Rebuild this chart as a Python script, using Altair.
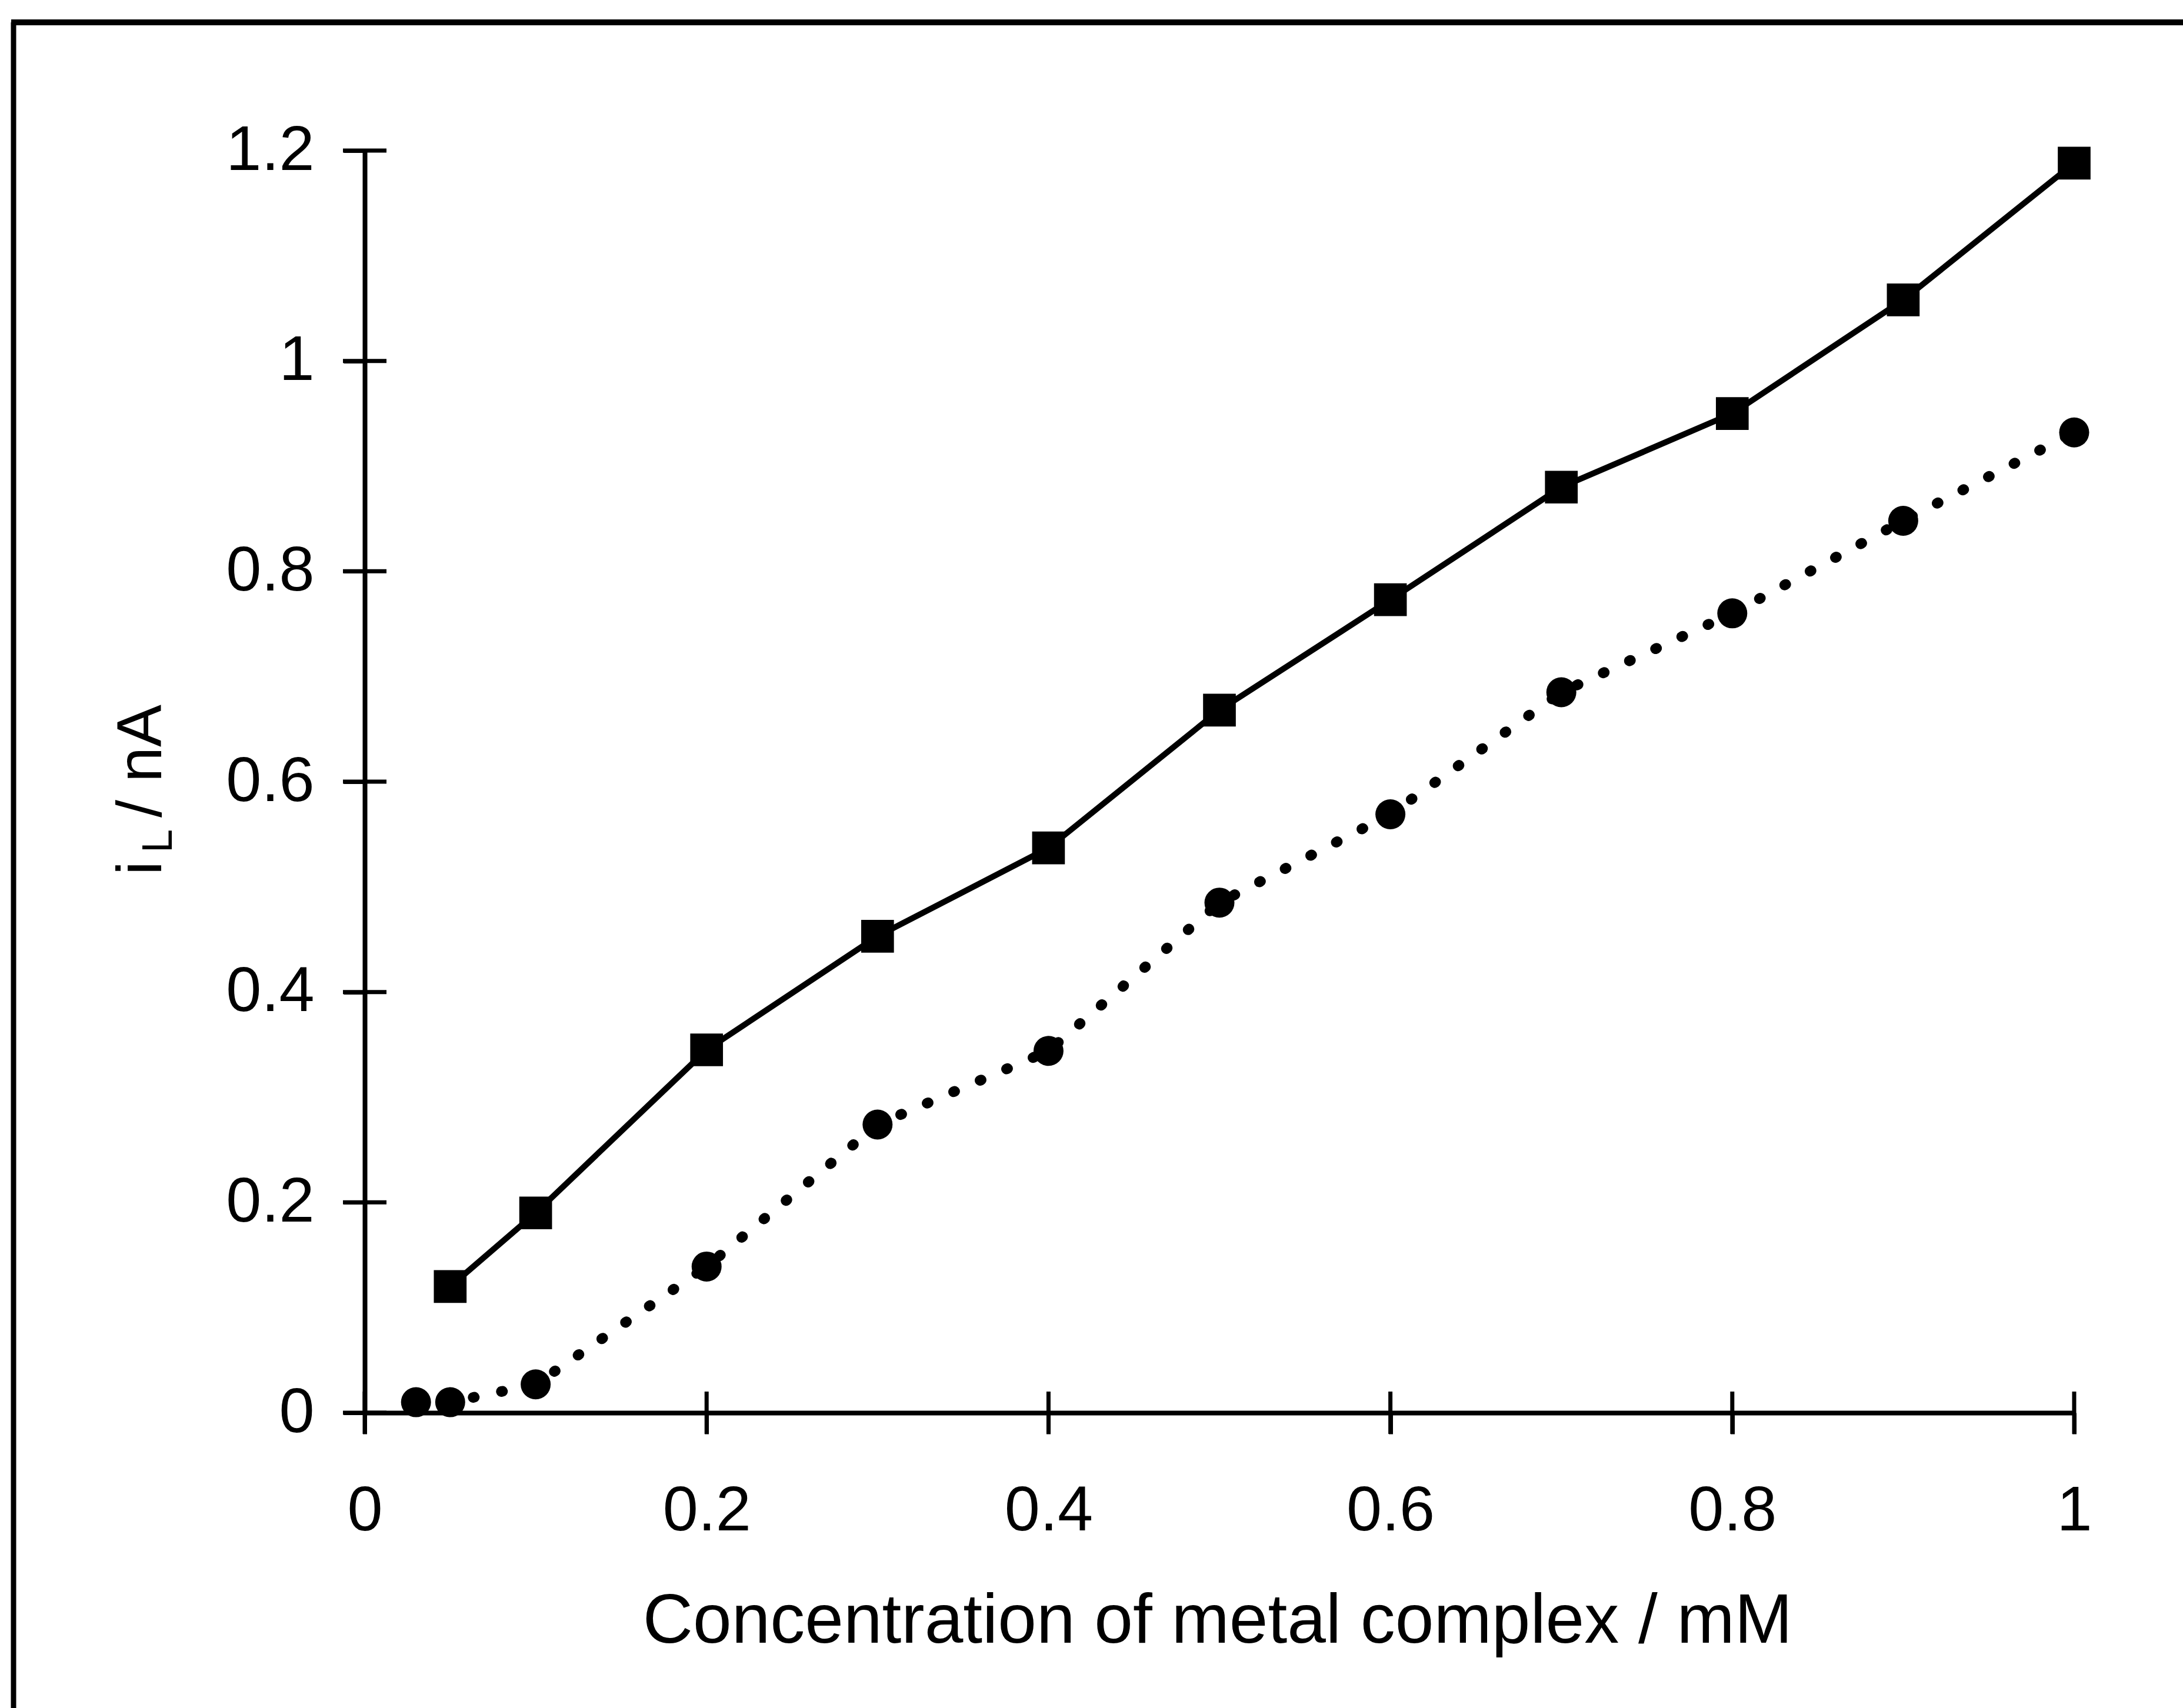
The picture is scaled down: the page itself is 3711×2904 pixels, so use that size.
import altair as alt
import pandas as pd

# ---- data ----
conc_squares = [0.05, 0.1, 0.2, 0.3, 0.4, 0.5, 0.6, 0.7, 0.8, 0.9, 1.0]
current_squares = [0.12, 0.19, 0.345, 0.453, 0.537, 0.668, 0.773, 0.880, 0.950, 1.058, 1.188]
conc_circles = [0.03, 0.05, 0.1, 0.2, 0.3, 0.4, 0.5, 0.6, 0.7, 0.8, 0.9, 1.0]
current_circles = [0.01, 0.01, 0.027, 0.139, 0.274, 0.344, 0.485, 0.569, 0.685, 0.760, 0.848, 0.932]
x_ticks = [0, 0.2, 0.4, 0.6, 0.8, 1.0]
y_ticks = [0, 0.2, 0.4, 0.6, 0.8, 1.0, 1.2]
x_title = "Concentration of metal complex / mM"
y_title_main = "i"
y_title_sub = "L"
y_title_rest = "/ nA"

W, H = 2906, 2146
FONT = "Liberation Sans"

sq = pd.DataFrame({"c": conc_squares, "i": current_squares})
ci = pd.DataFrame({"c": conc_circles, "i": current_circles})
xt = pd.DataFrame({"c": x_ticks})
yt = pd.DataFrame({"i": y_ticks})
one = pd.DataFrame({"k": [0]})

xscale = alt.Scale(domain=[0, 1], nice=False, zero=False)
yscale = alt.Scale(domain=[0, 1.2], nice=False, zero=False)

xaxis = alt.Axis(values=x_ticks, format="~g", title=None, grid=False,
                 labelPadding=78, labelFlush=False)
yaxis = alt.Axis(values=y_ticks, format="~g", title=None, grid=False,
                 labelPadding=50, labelFlush=False)

X = alt.X("c:Q", scale=xscale, axis=xaxis)
Y = alt.Y("i:Q", scale=yscale, axis=yaxis)

line_sq = alt.Chart(sq).mark_line(color="black", strokeWidth=10).encode(x=X, y=Y)
line_ci = alt.Chart(ci).mark_line(color="black", strokeWidth=18, strokeDash=[2, 47],
                                  strokeCap="round").encode(x=X, y=Y)
pts_sq = alt.Chart(sq).mark_point(shape="square", filled=True, size=3100,
                                  color="black", opacity=1).encode(x=X, y=Y)
pts_ci = alt.Chart(ci).mark_point(shape="circle", filled=True, size=2600,
                                  color="black", opacity=1).encode(x=X, y=Y)

xticks_in = alt.Chart(xt).mark_tick(orient="vertical", size=72, thickness=7,
                                    color="black", opacity=1).encode(
    x=X, y=alt.YDatum(0, type="quantitative", scale=yscale, axis=yaxis))
yticks_in = alt.Chart(yt).mark_tick(orient="horizontal", size=74, thickness=7,
                                    color="black", opacity=1).encode(
    y=Y, x=alt.XDatum(0, type="quantitative", scale=xscale, axis=xaxis))

frame_left = alt.Chart(one).mark_rule(color="black", strokeWidth=9).encode(
    x=alt.value(-597), y=alt.value(-218), y2=alt.value(2648))
frame_top = alt.Chart(one).mark_rule(color="black", strokeWidth=10).encode(
    x=alt.value(-601), x2=alt.value(3091), y=alt.value(-218))

xtitle = alt.Chart(one).mark_text(font=FONT, fontSize=118, color="black",
                                  align="center", baseline="alphabetic").encode(
    x=alt.value(1450), y=alt.value(2537), text=alt.value(x_title))
yt_i = alt.Chart(one).mark_text(font=FONT, fontSize=108, color="black", angle=270,
                                align="left", baseline="alphabetic").encode(
    x=alt.value(-346), y=alt.value(1232), text=alt.value(y_title_main))
yt_L = alt.Chart(one).mark_text(font=FONT, fontSize=72, color="black", angle=270,
                                align="left", baseline="alphabetic").encode(
    x=alt.value(-328), y=alt.value(1194), text=alt.value(y_title_sub))
yt_rest = alt.Chart(one).mark_text(font=FONT, fontSize=108, color="black", angle=270,
                                   align="left", baseline="alphabetic").encode(
    x=alt.value(-346), y=alt.value(1134), text=alt.value(y_title_rest))

chart = alt.layer(
    frame_left, frame_top,
    line_sq, line_ci, pts_sq, pts_ci,
    xticks_in, yticks_in,
    xtitle, yt_i, yt_L, yt_rest,
).properties(
    width=W, height=H,
    autosize=alt.AutoSizeParams(type="none"),
    padding={"left": 620, "top": 256, "right": 185, "bottom": 502},
    background="white",
).configure_view(
    strokeWidth=0
).configure_axis(
    domainColor="black", domainWidth=8,
    tickColor="black", tickWidth=7, tickSize=36,
    labelFont=FONT, labelFontSize=108, labelColor="black",
)

chart.save("out.html", embed_options={"renderer": "svg", "actions": False})
